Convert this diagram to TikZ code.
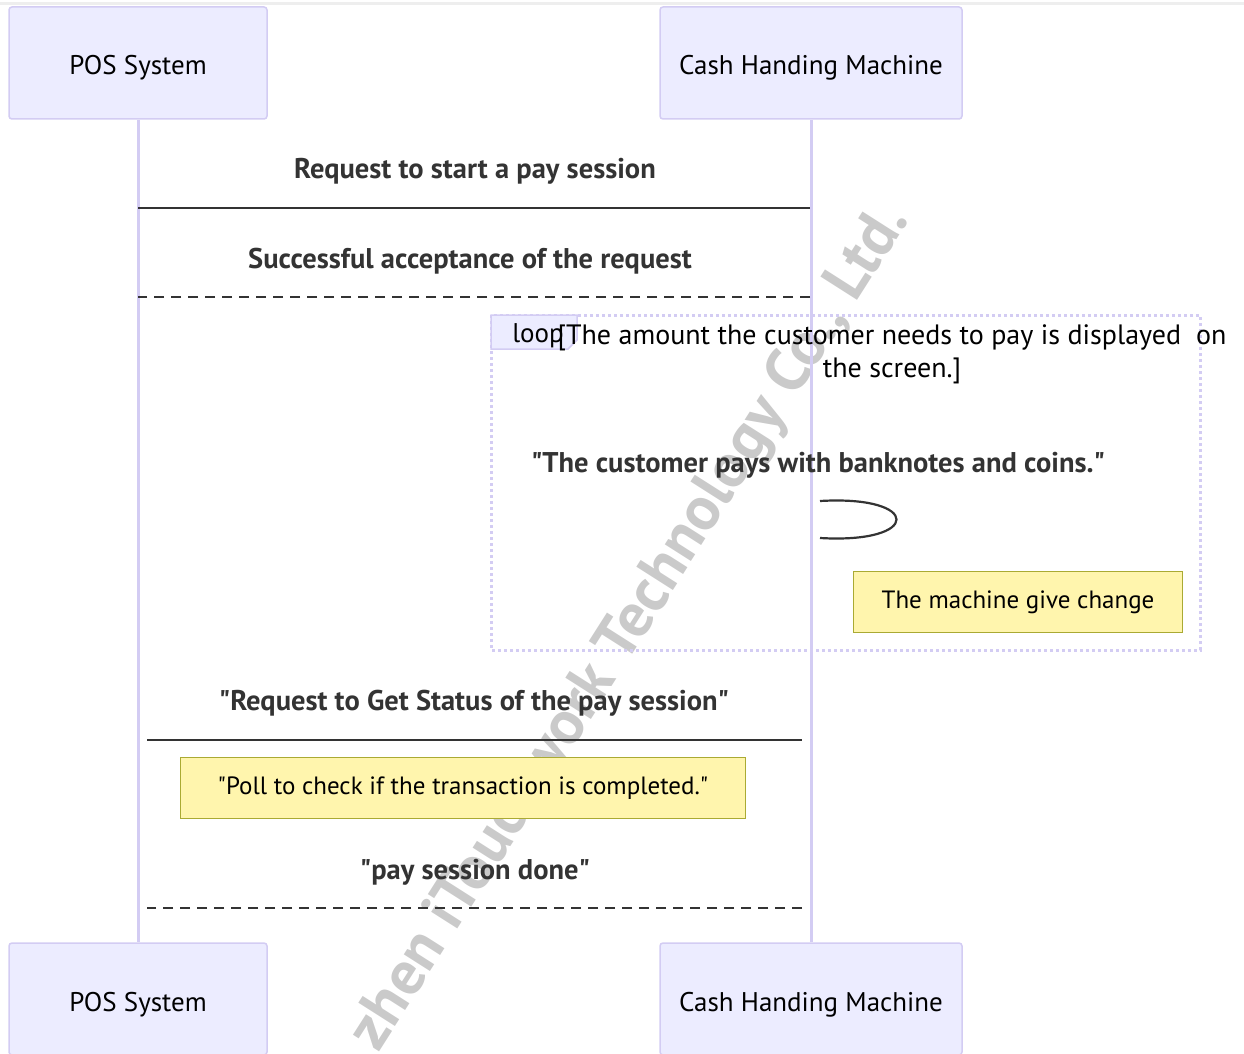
\documentclass[tikz,border=0pt]{standalone}
\usepackage{fontspec}
\setmainfont{PT Sans}
\usetikzlibrary{positioning}

\definecolor{actorfill}{HTML}{ECECFF}
\definecolor{actorline}{HTML}{D3CCF3}
\definecolor{notefill}{HTML}{FFF5AD}
\definecolor{noteline}{HTML}{AAAA33}
\definecolor{msgdark}{HTML}{333333}
\definecolor{markgray}{HTML}{CACACA}
\definecolor{topband}{HTML}{EEEEEE}

\newcommand{\dq}{\textquotedbl}

\begin{document}
\begin{tikzpicture}[
  x=1pt, y=-1pt,
  actor/.style={
    rectangle, draw=actorline, fill=actorfill,
    rounded corners=3pt, line width=1.5pt,
    minimum width=258pt, minimum height=112pt, inner sep=0pt,
    text height=24pt, text depth=0pt,
    font=\fontsize{27}{32}\selectfont
  },
  note/.style={
    rectangle, draw=noteline, fill=notefill,
    line width=1.5pt, minimum height=61pt, inner sep=0pt,
    font=\fontsize{25}{30}\selectfont
  },
  msgtext/.style={font=\fontsize{28.5}{34}\selectfont\bfseries, text=msgdark},
  solidmsg/.style={draw=msgdark, line width=2.2pt},
  replymsg/.style={solidmsg, dash pattern=on 10pt off 7pt},
  lifeline/.style={draw=actorline, line width=3pt},
  loopframe/.style={draw=actorline, line width=3pt, dash pattern=on 3pt off 3pt},
  watermark/.style={font=\fontsize{62}{70}\selectfont\bfseries, text=markgray}
]

\useasboundingbox (0,0) rectangle (1244,1054);
\draw[topband, line width=3pt] (0,4) -- (1244,4);

% =====================================================
% WATERMARK
% =====================================================

\begin{scope}
\clip (0,0) rectangle (1244,1054);
\node[watermark, rotate=57.5] (mark) at (631,628)
{zhen iTouchwork Technology Co., Ltd.};
\end{scope}

% =====================================================
% ACTORS AND LIFELINES
% =====================================================

\node[actor] (posTop) at (138,63) {POS System};
\node[actor, minimum width=302pt] (cashTop) at (811,63) {Cash Handing Machine};
\node[actor] (posBot) at (138,999) {POS System};
\node[actor, minimum width=302pt] (cashBot) at (811,999) {Cash Handing Machine};

\draw[lifeline] (posTop.south) -- (posBot.north);
\draw[lifeline] (cashTop.south) -- (cashBot.north);

% =====================================================
% START SESSION
% =====================================================

\coordinate (startP) at (138,208);
\coordinate (startC) at (810,208);
\node[msgtext] (startmsg) at (475,171) {Request to start a pay session};
\draw[solidmsg] (startP) -- (startC);

\coordinate (ackC) at (810,297);
\coordinate (ackP) at (138,297);
\node[msgtext] (ackmsg) at (470,261) {Successful acceptance of the request};
\draw[replymsg] (ackC) -- (ackP);

% =====================================================
% PAYMENT LOOP
% =====================================================

\draw[loopframe] (491,315) rectangle (1200,650);
\draw[draw=actorline, fill=actorfill, line width=1.5pt]
  (491,315) -- (577,315) -- (577,340) -- (568,349) -- (491,349) -- cycle;
\node[font=\fontsize{27}{32}\selectfont] (looplabel) at (538,336) {loop};
\node[font=\fontsize{28}{33}\selectfont, align=center] (loopcond) at (892,354)
{[The amount the customer needs to pay is displayed\ \ on\\the screen.]};

\coordinate (payA) at (820,501);
\coordinate (payB) at (820,538);
\node[msgtext] (paymsg) at (818,465) {\dq The customer pays with banknotes and coins.\dq};
\draw[solidmsg] (payA) .. controls (922,495) and (922,544) .. (payB);

\node[note, minimum width=329pt] (change) at (1018,602) {The machine give change};

% =====================================================
% STATUS POLLING
% =====================================================

\coordinate (statusP) at (147,740);
\coordinate (statusC) at (802,740);
\node[msgtext] (statusmsg) at (474,703) {\dq Request to Get Status of the pay session\dq};
\draw[solidmsg] (statusP) -- (statusC);

\node[note, minimum width=565pt] (poll) at (463,788)
{\dq Poll to check if the transaction is completed.\dq};

\coordinate (doneC) at (802,908);
\coordinate (doneP) at (147,908);
\node[msgtext] (donemsg) at (475,872) {\dq pay session done\dq};
\draw[replymsg] (doneC) -- (doneP);

\end{tikzpicture}
\end{document}
